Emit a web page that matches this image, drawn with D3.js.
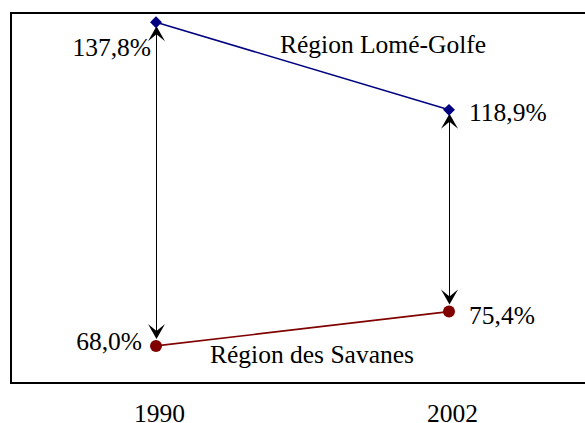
<!DOCTYPE html>
<html>
<head>
<meta charset="utf-8">
<script src="https://cdn.jsdelivr.net/npm/d3@7"></script>
<style>
  body { margin: 0; background: #fff; }
  svg { display: block; font-family: "Liberation Serif", "Times New Roman", serif; }
</style>
</head>
<body>
<svg width="585" height="423"></svg>
<script>
const years = [1990, 2002];
const lome = [137.8, 118.9];
const savanes = [68.0, 75.4];
const lomeLabels = ["137,8%", "118,9%"];
const savanesLabels = ["68,0%", "75,4%"];
const seriesNames = ["Région Lomé-Golfe", "Région des Savanes"];

const svg = d3.select("svg");

const x = d3.scaleLinear().domain([1990, 2002]).range([156, 449]);
const y = d3.scaleLinear().domain([60, 140]).range([383, 12]);

// frame (right side runs off the picture)
svg.append("rect").attr("x", 11).attr("y", 13).attr("width", 600).attr("height", 370)
  .attr("fill", "none").attr("stroke", "#000").attr("stroke-width", 2);

// double arrows between the two regions
const head = "M0,0 L-8.5,15 L0,8 L8.5,15 Z"; // stealth head pointing up, tip at 0,0
years.forEach((yr, i) => {
  const top = y(lome[i]) + 4, bot = y(savanes[i]) - 7;
  svg.append("line")
    .attr("x1", x(yr) + 0.5).attr("x2", x(yr) + 0.5)
    .attr("y1", top + 4).attr("y2", bot - 4)
    .attr("stroke", "#000").attr("stroke-width", 1);
  svg.append("path").attr("d", head).attr("fill", "#000")
    .attr("transform", `translate(${x(yr) + 0.5},${top})`);
  svg.append("path").attr("d", head).attr("fill", "#000")
    .attr("transform", `translate(${x(yr) + 0.5},${bot}) rotate(180)`);
});

// lines
const line = d3.line().x((d, i) => x(years[i])).y(d => y(d));
svg.append("path").datum(lome).attr("d", line)
  .attr("fill", "none").attr("stroke", "#000080").attr("stroke-width", 1.6);
svg.append("path").datum(savanes).attr("d", line)
  .attr("fill", "none").attr("stroke", "#800000").attr("stroke-width", 1.6);

// markers
svg.selectAll(".dia").data(lome).join("path")
  .attr("transform", (d, i) => `translate(${x(years[i])},${y(d)})`)
  .attr("d", d3.symbol(d3.symbolDiamond2, 90)).attr("fill", "#000080");
svg.selectAll(".dot").data(savanes).join("circle")
  .attr("cx", (d, i) => x(years[i])).attr("cy", d => y(d)).attr("r", 6)
  .attr("fill", "#800000");

// value labels
const fs = 25.5;
svg.append("text").attr("x", x(years[0]) - 5).attr("y", y(lome[0]) + 34)
  .attr("text-anchor", "end").attr("font-size", fs).text(lomeLabels[0]);
svg.append("text").attr("x", x(years[1]) + 20).attr("y", y(lome[1]) + 11)
  .attr("font-size", fs).text(lomeLabels[1]);
svg.append("text").attr("x", x(years[0]) - 14).attr("y", y(savanes[0]) + 4)
  .attr("text-anchor", "end").attr("font-size", fs).text(savanesLabels[0]);
svg.append("text").attr("x", x(years[1]) + 20).attr("y", y(savanes[1]) + 12)
  .attr("font-size", fs).text(savanesLabels[1]);

// series names
svg.append("text").attr("x", 280).attr("y", 53).attr("font-size", fs).text(seriesNames[0]);
svg.append("text").attr("x", 210).attr("y", 363).attr("font-size", fs).text(seriesNames[1]);

// year axis
const axis = svg.append("g").attr("transform", "translate(3,405)")
  .call(d3.axisBottom(x).tickValues(years).tickFormat(d3.format("d")).tickSize(0));
axis.select(".domain").remove();
axis.selectAll("text").attr("font-size", fs).attr("font-family", "Liberation Serif")
  .attr("fill", "#000").attr("dy", "0.66em").attr("y", 0);
</script>
</body>
</html>
